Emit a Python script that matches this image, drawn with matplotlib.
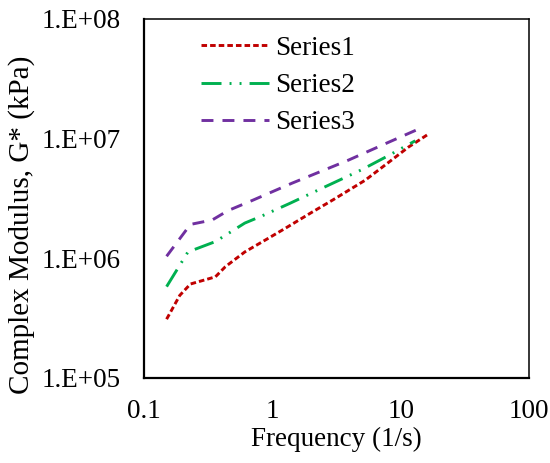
import math

import matplotlib
matplotlib.use("Agg")
import matplotlib.pyplot as plt
from matplotlib.ticker import FixedLocator, FuncFormatter, NullLocator

plt.rcParams['font.family'] = ['Liberation Serif', 'DejaVu Serif']
plt.rcParams['lines.scale_dashes'] = False

# frequency (1/s) and complex modulus G* (kPa)
freq1 = [0.15, 0.19, 0.23, 0.36, 0.43, 0.61, 0.9, 1.26, 2.0, 3.0, 5.3, 8.0, 11.5, 16.2]
gstar1 = [3.1e5, 4.9e5, 6.1e5, 7.0e5, 8.5e5, 1.13e6, 1.44e6, 1.78e6, 2.4e6, 3.1e6,
          4.5e6, 6.3e6, 8.5e6, 1.08e7]
freq2 = [0.15, 0.22, 0.36, 0.61, 0.83, 1.37, 2.5, 4.97, 8.0, 13.0]
gstar2 = [5.8e5, 1.13e6, 1.38e6, 1.97e6, 2.26e6, 2.88e6, 3.9e6, 5.5e6, 7.2e6, 9.6e6]
freq3 = [0.15, 0.23, 0.34, 0.45, 0.7, 1.42, 3.9, 8.0, 14.2]
gstar3 = [1.04e6, 1.92e6, 2.09e6, 2.5e6, 3.05e6, 4.24e6, 6.6e6, 9.3e6, 1.22e7]
labels = ['Series1', 'Series2', 'Series3']

xticks = [0.1, 1, 10, 100]
yticks = [1e5, 1e6, 1e7, 1e8]

fs = 19.5

fig = plt.figure(figsize=(5.5, 4.63), dpi=100)
ax = fig.add_axes([0.2618, 0.1836, 0.7, 0.7754])

ax.plot(freq1, gstar1, color='#C00000', lw=2.1, dashes=(4.0, 2.2), label=labels[0])
ax.plot(freq2, gstar2, color='#00B050', lw=2.1,
        dashes=(14.4, 5.8, 1.4, 5.8, 1.4, 5.8), label=labels[1])
ax.plot(freq3, gstar3, color='#7030A0', lw=2.1, dashes=(8.6, 6.5), label=labels[2])

ax.set_xscale('log')
ax.set_yscale('log')
ax.set_xlim(0.1, 100)
ax.set_ylim(1e5, 1e8)
ax.xaxis.set_major_locator(FixedLocator(xticks))
ax.yaxis.set_major_locator(FixedLocator(yticks))
ax.xaxis.set_minor_locator(NullLocator())
ax.yaxis.set_minor_locator(NullLocator())
ax.xaxis.set_major_formatter(FuncFormatter(lambda v, p: '%g' % v))


def sci(v, p):
    # Excel style "1.E+06"
    e = int(round(math.log10(v)))
    return '1.E+%02d' % e


ax.yaxis.set_major_formatter(FuncFormatter(sci))
ax.tick_params(length=0, labelsize=fs)
ax.tick_params(axis='y', pad=17)
ax.tick_params(axis='x', pad=15)

for s in ['left', 'bottom']:
    ax.spines[s].set_linewidth(1.6)
for s in ['top', 'right']:
    ax.spines[s].set_linewidth(1.1)

ax.set_xlabel('Frequency (1/s)', fontsize=fs, labelpad=2)
ax.set_ylabel('Complex Modulus, G* (kPa)', fontsize=21)
ax.yaxis.set_label_coords(-0.283, 0.426)

ax.legend(loc='upper left', bbox_to_anchor=(0.148, 0.953), frameon=False, fontsize=fs,
          handlelength=2.5, handletextpad=0.25, labelspacing=0.45,
          borderpad=0, borderaxespad=0)

fig.savefig('out.png', dpi=100)
